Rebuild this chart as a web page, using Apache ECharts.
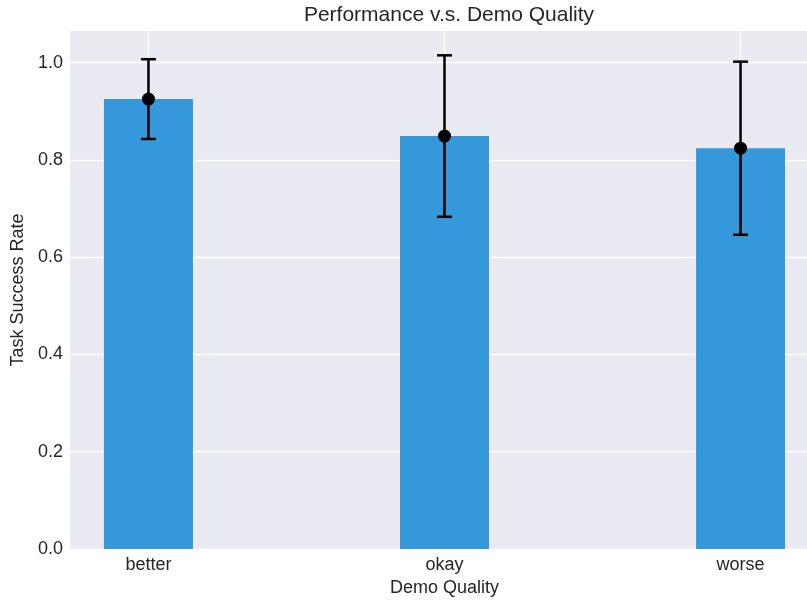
<!DOCTYPE html>
<html><head><meta charset="utf-8">
<script src="https://cdn.jsdelivr.net/npm/echarts@6/dist/echarts.min.js"></script>
<style>html,body{margin:0;padding:0;background:#fff}#c{width:807px;height:601px}</style>
</head><body><div id="c"></div>
<script>
const categories = ['better', 'okay', 'worse'];
const means = [0.925, 0.849, 0.824];
const errs = [0.082, 0.166, 0.178];
const yTicks = [0, 0.2, 0.4, 0.6, 0.8, 1.0];

const txt = '#262626';
const font = 'Liberation Sans, Arial, sans-serif';
const chart = echarts.init(document.getElementById('c'), null, {renderer: 'canvas'});
const barData = means.map((m, i) => [i, m]);
const errData = means.map((m, i) => [i, m - errs[i], m + errs[i]]);
chart.setOption({
  animation: false,
  backgroundColor: '#fff',
  title: {text: 'Performance v.s. Demo Quality', left: 444, textAlign: 'center', top: 0,
    textStyle: {color: txt, fontFamily: font, fontSize: 21, fontWeight: 'normal'}},
  grid: {left: 70, top: 31, right: -12, bottom: 52, show: true, backgroundColor: '#EAEAF2', borderWidth: 0,
    containLabel: false, outerBoundsMode: 'none'},
  xAxis: {type: 'value', min: -0.265, max: 2.265,
    name: 'Demo Quality', nameLocation: 'middle', nameGap: 30,
    nameTextStyle: {color: txt, fontFamily: font, fontSize: 18},
    axisLine: {show: false}, axisTick: {show: false, customValues: [0, 1, 2]},
    axisLabel: {customValues: [0, 1, 2], formatter: v => categories[Math.round(v)], color: txt, fontFamily: font, fontSize: 18, margin: 7},
    splitLine: {show: true, lineStyle: {color: '#fff', width: 1.3}}},
  yAxis: {type: 'value', min: 0, max: 1.065,
    name: 'Task Success Rate', nameLocation: 'middle', nameGap: 37,
    nameTextStyle: {color: txt, fontFamily: font, fontSize: 18},
    axisLine: {show: false}, axisTick: {show: false, customValues: yTicks},
    axisLabel: {customValues: yTicks, formatter: v => v.toFixed(1), color: txt, fontFamily: font, fontSize: 18, margin: 7},
    splitLine: {show: true, lineStyle: {color: '#fff', width: 1.3}}},
  series: [
    {type: 'bar', data: barData, barWidth: 89, itemStyle: {color: '#3498DB'}, z: 2},
    {type: 'custom', data: errData, z: 5,
      renderItem: (params, api) => {
        const x = api.value(0);
        const lo = api.coord([x, api.value(1)]);
        const hi = api.coord([x, api.value(2)]);
        const cw = 7.5;
        const st = {stroke: '#000', lineWidth: 2.5};
        return {type: 'group', children: [
          {type: 'line', shape: {x1: lo[0], y1: lo[1], x2: hi[0], y2: hi[1]}, style: st},
          {type: 'line', shape: {x1: lo[0] - cw, y1: lo[1], x2: lo[0] + cw, y2: lo[1]}, style: st},
          {type: 'line', shape: {x1: hi[0] - cw, y1: hi[1], x2: hi[0] + cw, y2: hi[1]}, style: st}
        ]};
      }},
    {type: 'scatter', data: barData, symbol: 'circle', symbolSize: 13, itemStyle: {color: '#000', opacity: 1}, z: 6}
  ]
});
</script></body></html>
